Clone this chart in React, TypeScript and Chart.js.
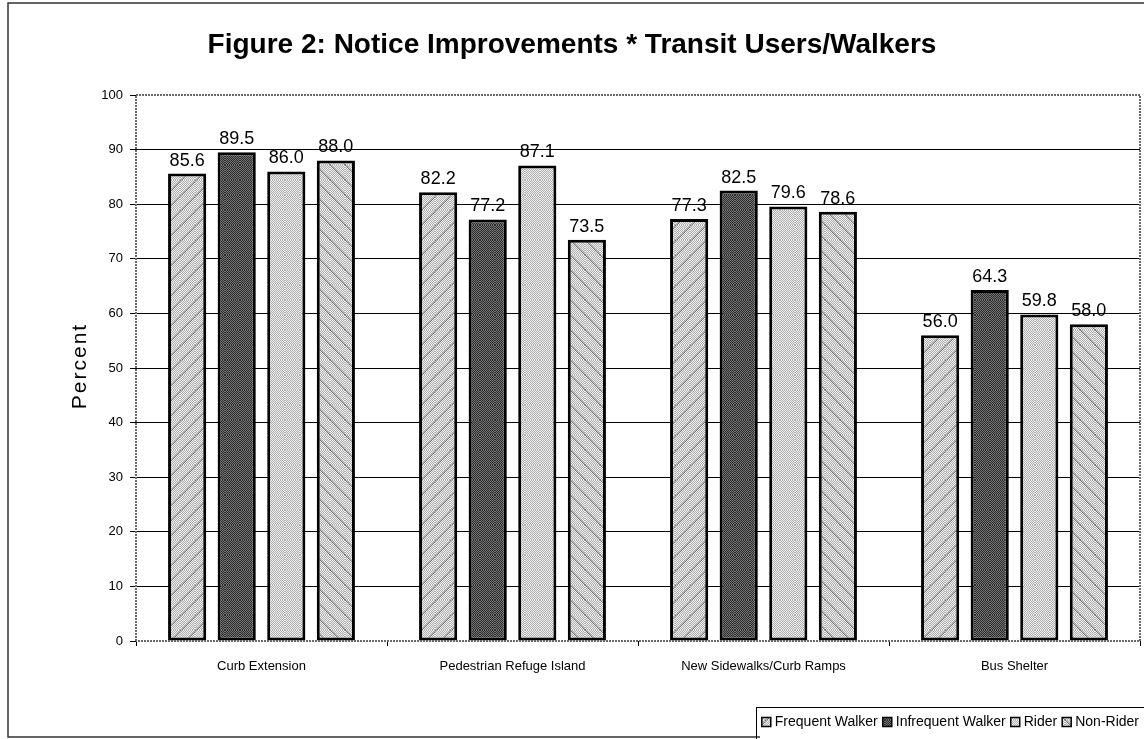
import React, { useEffect, useRef } from "react";
import { Chart, registerables } from "chart.js";

Chart.register(...registerables);

const categories = ["Curb Extension", "Pedestrian Refuge Island", "New Sidewalks/Curb Ramps", "Bus Shelter"];
const seriesNames = ["Frequent Walker", "Infrequent Walker", "Rider", "Non-Rider"];
const frequentWalker = [85.6, 82.2, 77.3, 56.0];
const infrequentWalker = [89.5, 77.2, 82.5, 64.3];
const rider = [86.0, 87.1, 79.6, 59.8];
const nonRider = [88.0, 73.5, 78.6, 58.0];
const yMin = 0;
const yMax = 100;
const yStep = 10;

const titleText = "Figure 2: Notice Improvements * Transit Users/Walkers";
const yTitle = "Percent";
const FONT = "Arial, 'Liberation Sans', sans-serif";

type Kind = "up" | "dark" | "plain" | "down";

function makePattern(kind: Kind): CanvasPattern | string {
  const size = 15;
  const c = document.createElement("canvas");
  c.width = size;
  c.height = size;
  const ctx = c.getContext("2d");
  if (!ctx) return "#bbb";
  const img = ctx.createImageData(size, size);
  for (let y = 0; y < size; y++) {
    for (let x = 0; x < size; x++) {
      const chk = (x + y) % 2 === 0;
      let v: number;
      if (kind === "dark") {
        v = chk ? 45 : 115;
      } else {
        v = chk ? 175 : 238;
        let onStripe = false;
        if (kind === "up") onStripe = (x + y) % size < 2;
        if (kind === "down") onStripe = (x - y + size) % size < 2;
        if (onStripe) v = chk ? 120 : 185;
      }
      const i = (y * size + x) * 4;
      img.data[i] = v;
      img.data[i + 1] = v;
      img.data[i + 2] = v;
      img.data[i + 3] = 255;
    }
  }
  ctx.putImageData(img, 0, 0);
  const p = ctx.createPattern(c, "repeat");
  return p || "#bbb";
}

export default function App() {
  const ref = useRef<HTMLCanvasElement | null>(null);

  useEffect(() => {
    if (!ref.current) return;
    const kinds: Kind[] = ["up", "dark", "plain", "down"];
    const fills = kinds.map(makePattern);
    const values = [frequentWalker, infrequentWalker, rider, nonRider];

    const decor = {
      id: "decor",
      afterDatasetsDraw(chart: any) {
        const ctx = chart.ctx as CanvasRenderingContext2D;
        ctx.save();
        ctx.font = `18px ${FONT}`;
        ctx.fillStyle = "#000";
        ctx.textAlign = "center";
        ctx.textBaseline = "bottom";
        chart.data.datasets.forEach((ds: any, di: number) => {
          const meta = chart.getDatasetMeta(di);
          meta.data.forEach((el: any, i: number) => {
            ctx.fillText(Number(ds.data[i]).toFixed(1), el.x, el.y - 4);
          });
        });
        ctx.restore();
      },
      afterDraw(chart: any) {
        const ctx = chart.ctx as CanvasRenderingContext2D;
        const a = chart.chartArea;
        ctx.save();
        ctx.strokeStyle = "#6a6a6a";
        ctx.lineWidth = 2;
        ctx.setLineDash([2, 1]);
        ctx.beginPath();
        ctx.moveTo(a.left, a.bottom);
        ctx.lineTo(a.left, a.top);
        ctx.lineTo(a.right, a.top);
        ctx.lineTo(a.right, a.bottom);
        ctx.lineTo(a.left, a.bottom);
        ctx.stroke();
        ctx.setLineDash([]);

        ctx.strokeStyle = "#333";
        ctx.lineWidth = 1.5;
        ctx.beginPath();
        ctx.moveTo(1144, 3);
        ctx.lineTo(8, 3);
        ctx.lineTo(8, 737);
        ctx.lineTo(760, 737);
        ctx.stroke();

        ctx.fillStyle = "#000";
        ctx.font = `bold 28px ${FONT}`;
        ctx.textAlign = "center";
        ctx.textBaseline = "middle";
        ctx.fillText(titleText, 572, 45);

        ctx.save();
        ctx.translate(80, 366);
        ctx.rotate(-Math.PI / 2);
        ctx.font = `21px ${FONT}`;
        (ctx as any).letterSpacing = "2px";
        ctx.fillText(yTitle, 0, 0);
        ctx.restore();

        ctx.font = `14px ${FONT}`;
        ctx.textBaseline = "middle";
        ctx.textAlign = "left";
        const box = 9;
        const gapAfter = 4;
        const gapBetween = 5;
        let total = 0;
        const widths = seriesNames.map((n) => ctx.measureText(n).width);
        widths.forEach((w, i) => {
          total += box + gapAfter + w + (i < widths.length - 1 ? gapBetween : 0);
        });
        const rightEdge = 1139;
        let x = rightEdge - total;
        const ly = 722;
        ctx.strokeStyle = "#000";
        ctx.lineWidth = 1;
        ctx.strokeRect(Math.round(x - 6) + 0.5, 707.5, 1144 - (x - 6) + 2, 40);
        seriesNames.forEach((n, i) => {
          ctx.fillStyle = fills[i] as any;
          ctx.fillRect(x, ly - box / 2, box, box);
          ctx.strokeStyle = "#000";
          ctx.lineWidth = 1.5;
          ctx.strokeRect(x, ly - box / 2, box, box);
          ctx.fillStyle = "#000";
          ctx.fillText(n, x + box + gapAfter, ly);
          x += box + gapAfter + widths[i] + gapBetween;
        });
        ctx.restore();
      },
    };

    const chart = new Chart(ref.current, {
      type: "bar",
      data: {
        labels: categories,
        datasets: seriesNames.map((name, i) => ({
          label: name,
          data: values[i],
          backgroundColor: fills[i] as any,
          borderColor: "#000",
          borderWidth: 3,
          borderSkipped: false,
          categoryPercentage: 0.79,
          barPercentage: 0.77,
        })),
      },
      options: {
        animation: false,
        responsive: true,
        maintainAspectRatio: false,
        layout: { padding: { top: 95, right: 4, left: 0, bottom: 0 } },
        plugins: {
          legend: { display: false },
          title: { display: false },
          tooltip: { enabled: false },
        },
        scales: {
          x: {
            offset: true,
            grid: {
              display: true,
              offset: true,
              drawOnChartArea: false,
              drawTicks: true,
              tickLength: 5,
              color: "#000",
            },
            border: { display: false },
            ticks: { color: "#000", font: { family: FONT, size: 13 }, padding: 13, maxRotation: 0 },
            afterFit: (s: any) => {
              s.height = 98;
            },
          },
          y: {
            min: yMin,
            max: yMax,
            ticks: { stepSize: yStep, color: "#000", font: { family: FONT, size: 13 }, padding: 7 },
            grid: {
              color: (c: any) => (c.tick && (c.tick.value === yMin || c.tick.value === yMax) ? "rgba(0,0,0,0)" : "#000"),
              tickColor: "#000",
              lineWidth: 1,
              tickLength: 6,
            },
            border: { display: false },
            afterFit: (s: any) => {
              s.width = 136;
            },
          },
        },
      },
      plugins: [decor],
    });
    return () => chart.destroy();
  }, []);

  return (
    <div style={{ position: "fixed", left: 0, top: 0, width: 1144, height: 739, background: "#fff" }}>
      <canvas ref={ref} />
    </div>
  );
}
